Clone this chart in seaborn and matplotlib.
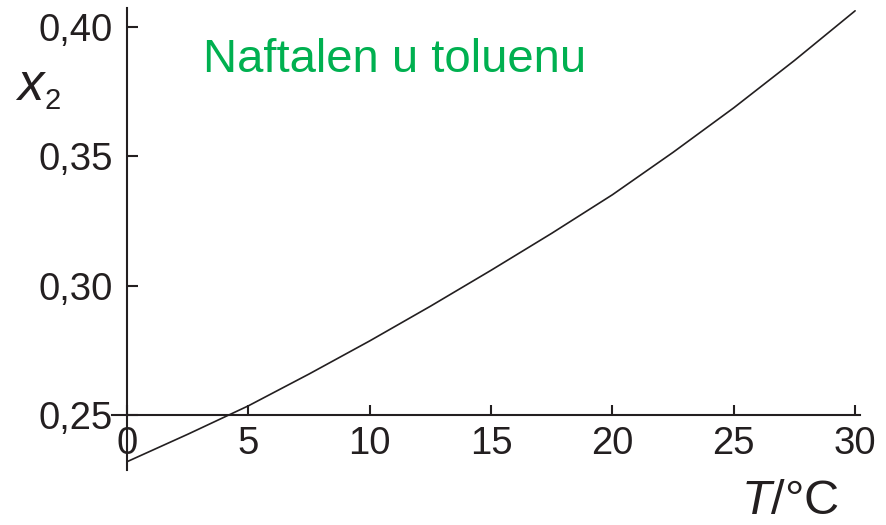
import matplotlib
matplotlib.use("Agg")
import matplotlib.pyplot as plt
import numpy as np
import pandas as pd
import seaborn as sns

# Solubility of naphthalene in toluene: mole fraction vs temperature
temperature_c = [0, 2.5, 5, 7.5, 10, 12.5, 15, 17.5, 20, 22.5, 25, 27.5, 30]
mole_fraction = [0.2319, 0.2425, 0.2535, 0.2658, 0.2786, 0.2920, 0.3059,
                 0.3202, 0.3351, 0.3515, 0.3687, 0.3870, 0.4062]

x_ticks = [0, 5, 10, 15, 20, 25, 30]
x_tick_labels = ["0", "5", "10", "15", "20", "25", "30"]
y_ticks = [0.25, 0.30, 0.35, 0.40]
y_tick_labels = ["0,25", "0,30", "0,35", "0,40"]

title_text = "Naftalen u toluenu"

ink = "#231f20"
green = "#00b050"

sns.set_style("white")
plt.rcParams["font.family"] = ["Liberation Sans", "DejaVu Sans"]
plt.rcParams["mathtext.fontset"] = "custom"
plt.rcParams["mathtext.it"] = "Liberation Sans:italic"
plt.rcParams["mathtext.rm"] = "Liberation Sans"

df = pd.DataFrame({"T": temperature_c, "x2": mole_fraction})

fig = plt.figure(figsize=(8.86, 5.25), dpi=100)
ax = fig.add_axes([0.1264, 0.1048, 0.8442, 0.88])

sns.lineplot(data=df, x="T", y="x2", ax=ax, color=ink, linewidth=1.2)

ax.set_xlim(-0.62, 30.2)
ax.set_ylim(0.2287, 0.4073)

ax.spines["left"].set_position(("data", 0))
ax.spines["bottom"].set_position(("data", 0.25))
for side in ("top", "right"):
    ax.spines[side].set_visible(False)
for side in ("left", "bottom"):
    ax.spines[side].set_color(ink)
    ax.spines[side].set_linewidth(1.5)

ax.set_xticks(x_ticks)
ax.set_xticklabels(x_tick_labels)
ax.set_yticks(y_ticks)
ax.set_yticklabels(y_tick_labels)

ax.tick_params(axis="both", direction="in", width=1.5, color=ink,
               labelcolor=ink, labelsize=27.5, bottom=True, left=True)
ax.tick_params(axis="x", length=7.5, pad=8)
ax.tick_params(axis="y", length=8, pad=10)

ax.set_xlabel("")
ax.set_ylabel("")

# axis titles
fig.text(741 / 886, 1 - 514 / 525, r"$\mathit{T}$/°C", fontsize=35,
         color=ink, ha="left", va="baseline")
fig.text(17 / 886, 1 - 100 / 525, "x", fontsize=38, style="italic",
         color=ink, ha="left", va="baseline")
fig.text(45 / 886, 1 - 109 / 525, "2", fontsize=21,
         color=ink, ha="left", va="baseline")

fig.text(203 / 886, 1 - 72 / 525, title_text, fontsize=34, color=green,
         ha="left", va="baseline")

fig.savefig("out.png", dpi=100)
